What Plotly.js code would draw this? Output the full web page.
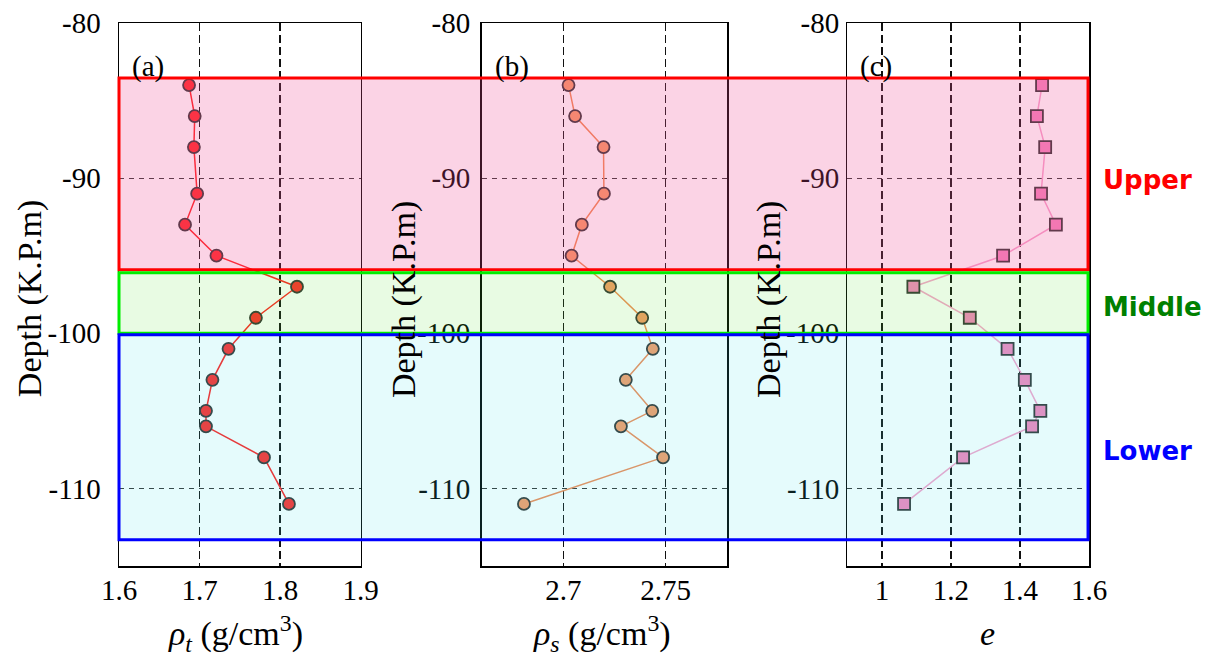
<!DOCTYPE html>
<html>
<head>
<meta charset="utf-8">
<script src="https://cdn.plot.ly/plotly-3.0.1.min.js"></script>
<style>
  html, body { margin: 0; padding: 0; background: #ffffff; }
  #chart { width: 1216px; height: 657px; }
</style>
</head>
<body>
<div id="chart"></div>
<script>
// Sampling depths (K.P. m) shared by the three profiles
const depth = [-84, -86, -88, -91, -93, -95, -97, -99, -101, -103, -105, -106, -108, -111];

// (a) wet density, (b) specific gravity of soil particles, (c) void ratio
const rhoT = [1.687, 1.694, 1.693, 1.697, 1.682, 1.721, 1.821, 1.770, 1.736, 1.716, 1.708, 1.708, 1.780, 1.811];
const rhoS = [2.7025, 2.7057, 2.7196, 2.7198, 2.709, 2.704, 2.7228, 2.7385, 2.7437, 2.7305, 2.7434, 2.7281, 2.7487, 2.6807];
const voidRatio = [1.464, 1.449, 1.473, 1.461, 1.504, 1.351, 1.091, 1.2545, 1.364, 1.414, 1.459, 1.435, 1.235, 1.064];

// Stratigraphic zones: name, top and bottom depth
const zoneNames = ["Upper", "Middle", "Lower"];
const zoneTop = [-83.55, -96.1, -100.1];
const zoneBottom = [-95.9, -100.0, -113.3];

// Tick labels
const xTicksA = [1.6, 1.7, 1.8, 1.9];
const xTicksB = [2.7, 2.75];
const xTicksC = [1, 1.2, 1.4, 1.6];
const yTicks = [-80, -90, -100, -110];

// Axis titles
const xTitles = [
  "<i>ρ</i><sub><i>t</i></sub> (g/cm<sup>3</sup>)",
  "<i>ρ</i><sub><i>s</i></sub> (g/cm<sup>3</sup>)",
  "<i>e</i>"
];
const yTitle = "Depth (K.P.m)";

const serif = "Liberation Serif";
const zoneFill = ["rgba(240,80,150,0.25)", "rgba(90,225,60,0.14)", "rgba(70,225,235,0.14)"];
const zoneLine = ["#ff0000", "#00ee00", "#0000ff"];
const zoneText = ["#ff0000", "#008000", "#0000ff"];

function profile(x, xa, ya, fill, lineCol, symbol) {
  return {
    x: x, y: depth, xaxis: xa, yaxis: ya,
    type: "scatter", mode: "lines+markers",
    line: { color: lineCol, width: 1.5 },
    marker: { symbol: symbol, size: 12, color: fill, line: { color: "#333333", width: 1.8 } },
    showlegend: false, hoverinfo: "x+y"
  };
}

const traces = [
  profile(rhoT, "x", "y", "#ff2a2a", "#ff2020", "circle"),
  profile(rhoS, "x2", "y2", "#f79a66", "#f28a55", "circle"),
  profile(voidRatio, "x3", "y3", "#f585bd", "#f7a2cc", "square")
];

function xAxis(domain, range, ticks, anchor) {
  return {
    domain: domain, range: range, anchor: anchor,
    tickmode: "array", tickvals: ticks, ticktext: ticks.map(String),
    ticks: "", ticklabelstandoff: -2,
    tickfont: { family: serif, size: 29, color: "#000" },
    showline: true, mirror: true, linecolor: "#000", linewidth: 1.5,
    showgrid: true, gridcolor: "#111", gridwidth: 1.3, griddash: "8px,4px",
    zeroline: false
  };
}

function yAxis(anchor, standoff) {
  return {
    domain: [0, 1], range: [-115, -80], anchor: anchor,
    tickmode: "array", tickvals: yTicks, ticktext: yTicks.map(String),
    ticks: "", ticklabelstandoff: standoff,
    tickfont: { family: serif, size: 29, color: "#000" },
    showline: true, mirror: true, linecolor: "#000", linewidth: 1.5,
    showgrid: true, gridcolor: "#333", gridwidth: 1, griddash: "5px,5px",
    zeroline: false
  };
}

const shapes = zoneNames.map((n, i) => ({
  type: "rect", layer: "above",
  xref: "paper", yref: "y",
  x0: 0, x1: 0.999, y0: zoneTop[i], y1: zoneBottom[i],
  fillcolor: zoneFill[i],
  line: { color: zoneLine[i], width: 3 }
}));

const annotations = [];
// Panel letters
[["(a)", "x domain", "y domain"], ["(b)", "x2 domain", "y2 domain"], ["(c)", "x3 domain", "y3 domain"]]
  .forEach(([t, xr, yr]) => annotations.push({
    text: t, xref: xr, yref: yr, x: 0.045, y: 0.92, xanchor: "left", yanchor: "middle",
    showarrow: false, font: { family: serif, size: 29, color: "#000" }
  }));
// Depth titles beside each panel
[30, 404, 769].forEach(px => annotations.push({
  text: yTitle, xref: "paper", yref: "y",
  x: (px - 119) / 970.3, y: -97.8, xanchor: "center", yanchor: "middle",
  textangle: -90, showarrow: false,
  font: { family: serif, size: 34, color: "#000" }
}));
// Quantity titles below each panel
[236, 602, 988].forEach((px, i) => annotations.push({
  text: xTitles[i], xref: "paper", yref: "paper",
  x: (px - 119) / 970.3, y: -0.124, xanchor: "center", yanchor: "middle",
  showarrow: false,
  font: { family: serif, size: 34, color: "#000" }
}));
// Zone names on the right
const zoneLabelDepth = [-90.1, -98.3, -107.6];
zoneNames.forEach((n, i) => annotations.push({
  text: "<b>" + n + "</b>", xref: "paper", yref: "y",
  x: 1.012, y: zoneLabelDepth[i], xanchor: "left", yanchor: "middle",
  showarrow: false,
  font: { family: "DejaVu Sans", size: 26, color: zoneText[i] }
}));

const layout = {
  width: 1216, height: 657,
  margin: { l: 119, r: 126.7, t: 22.7, b: 91.3 },
  paper_bgcolor: "#ffffff", plot_bgcolor: "rgba(0,0,0,0)",
  showlegend: false,
  xaxis: xAxis([0, 0.2491], [1.6, 1.9], xTicksA, "y"),
  xaxis2: xAxis([0.3738, 0.6269], [2.66, 2.78], xTicksB, "y2"),
  xaxis3: xAxis([0.7510, 1], [0.9, 1.6], xTicksC, "y3"),
  yaxis: yAxis("x", 11),
  yaxis2: yAxis("x2", 4),
  yaxis3: yAxis("x3", 1),
  shapes: shapes,
  annotations: annotations
};

Plotly.newPlot("chart", traces, layout, { displayModeBar: false, staticPlot: true });
</script>
</body>
</html>
